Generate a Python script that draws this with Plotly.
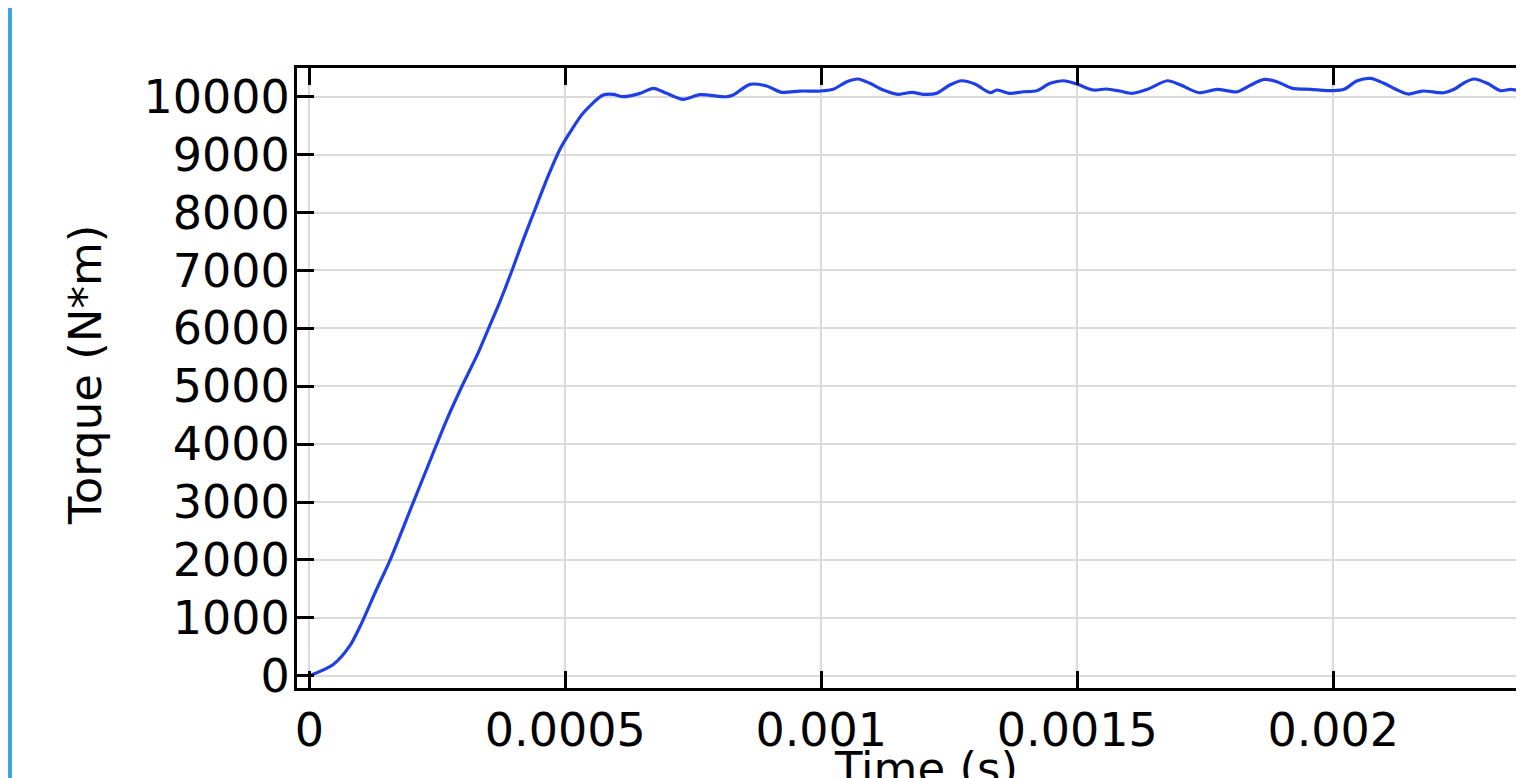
import plotly.graph_objects as go

# Time (s) and torque (N*m)
time_s = [0.0, 0.0000469, 0.0000794, 0.0001022, 0.0001315, 0.0001576, 0.0002031,
          0.0002487, 0.0002682, 0.0002975, 0.0003268, 0.0003496, 0.0003724,
          0.0003952, 0.000418, 0.0004408, 0.0004668, 0.0004896, 0.0005091,
          0.000535, 0.000574, 0.000594, 0.000613, 0.000646, 0.000672, 0.000698,
          0.00073, 0.000763, 0.000815, 0.000828, 0.000861, 0.000893, 0.000923,
          0.000958, 0.000997, 0.001023, 0.00105, 0.001072, 0.001095, 0.001121,
          0.00115, 0.001177, 0.0012, 0.001225, 0.001251, 0.001274, 0.0013,
          0.00133, 0.001343, 0.001369, 0.001395, 0.001421, 0.001447, 0.001473,
          0.001499, 0.001531, 0.001557, 0.001583, 0.001607, 0.001637, 0.001676,
          0.001702, 0.001738, 0.001773, 0.001813, 0.001839, 0.001865, 0.00189,
          0.00192, 0.001956, 0.002001, 0.002021, 0.002047, 0.002073, 0.002099,
          0.002125, 0.002147, 0.002174, 0.002216, 0.002236, 0.002256, 0.002275,
          0.002301, 0.002327, 0.002347, 0.002373, 0.002385]
torque = [0, 195, 519, 909, 1494, 1994, 2994,
          3994, 4416, 4987, 5519, 5987, 6461,
          6981, 7532, 8052, 8636, 9091, 9383,
          9720, 10029, 10041, 10000, 10058, 10145, 10058,
          9955, 10035, 10000, 10030, 10214, 10185, 10076,
          10098, 10098, 10128, 10259, 10306, 10231, 10116,
          10041, 10076, 10041, 10058, 10202, 10276, 10219,
          10069, 10116, 10058, 10086, 10104, 10231, 10276,
          10219, 10116, 10133, 10098, 10058, 10128, 10276,
          10202, 10069, 10128, 10086, 10202, 10300, 10259,
          10145, 10128, 10104, 10128, 10276, 10317, 10231,
          10116, 10046, 10098, 10069, 10128, 10242, 10306,
          10231, 10104, 10128, 10086, 10070]

x_ticks = [0, 0.0005, 0.001, 0.0015, 0.002]
x_tick_labels = ["0", "0.0005", "0.001", "0.0015", "0.002"]
y_ticks = [0, 1000, 2000, 3000, 4000, 5000, 6000, 7000, 8000, 9000, 10000]
y_tick_labels = ["0", "1000", "2000", "3000", "4000", "5000", "6000", "7000",
                 "8000", "9000", "10000"]

FONT = "DejaVu Sans"

fig = go.Figure()
fig.add_trace(go.Scatter(
    x=time_s, y=torque, mode="lines",
    line=dict(color="#1f3fe6", width=3.2, shape="spline", smoothing=0.8),
    showlegend=False,
))

W, H = 1524, 778
L, R, T, B = 289, 0, 60, 98
pw = W - L - R
ph = H - T - B
x_right = -0.000024 + (0.0023725 + 0.000024) * pw / 1227.0

fig.update_layout(
    width=W, height=H,
    margin=dict(l=L, r=R, t=T, b=B, pad=0),
    paper_bgcolor="white", plot_bgcolor="white",
    font=dict(family=FONT, color="black", size=46),
    xaxis=dict(
        range=[-0.000024, x_right],
        tickvals=x_ticks, ticktext=x_tick_labels,
        ticks="inside", ticklen=17, tickwidth=2.5, tickcolor="black",
        showline=True, linecolor="black", linewidth=3, mirror="ticks",
        showgrid=True, gridcolor="#dadada", gridwidth=1.5,
        zeroline=False,
        tickfont=dict(family=FONT, size=46, color="black"),
        ticklabelstandoff=0,
    ),
    yaxis=dict(
        range=[-212, 10496],
        tickvals=y_ticks, ticktext=y_tick_labels,
        ticks="inside", ticklen=17, tickwidth=2.5, tickcolor="black",
        showline=True, linecolor="black", linewidth=3, mirror=False,
        showgrid=True, gridcolor="#dadada", gridwidth=1.5,
        zeroline=False,
        tickfont=dict(family=FONT, size=46, color="black"),
        ticklabelstandoff=-5,
    ),
    shapes=[
        dict(type="rect", xref="paper", yref="paper",
             x0=(-2 - L) / pw, x1=(4 - L) / pw,
             y0=-(B + 5) / ph, y1=(ph + T + 5) / ph,
             fillcolor="#3aa6dc", line=dict(width=0), layer="above"),
    ],
    annotations=[
        dict(text="Torque (N*m)", xref="paper", yref="paper",
             x=(77 - L) / pw, y=(H - B - 367) / ph,
             xanchor="center", yanchor="middle", textangle=-90,
             showarrow=False, font=dict(family=FONT, size=45, color="black")),
        dict(text="Time (s)", xref="paper", yref="paper",
             x=(918 - L) / pw, y=-(732 - (H - B)) / ph,
             xanchor="center", yanchor="top",
             showarrow=False, font=dict(family=FONT, size=45, color="black")),
    ],
)

fig.write_html("out.html")
